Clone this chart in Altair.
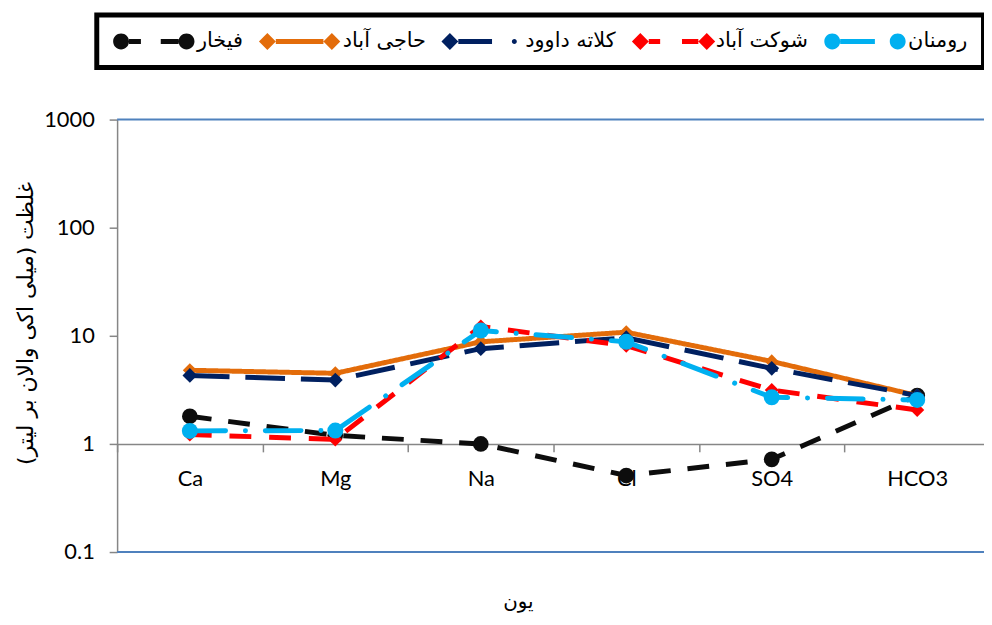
import altair as alt
import pandas as pd

# ---- data -------------------------------------------------------------
IONS = ["Ca", "Mg", "Na", "Cl", "SO4", "HCO3"]
SERIES = ["فیخار", "حاجی آباد", "کلاته داوود", "شوکت آباد", "رومنان"]
fikhar = [1.8, 1.2, 1.0, 0.51, 0.72, 2.8]
hajiabad = [4.8, 4.5, 8.8, 10.8, 5.8, 2.8]
kalateh = [4.3, 3.9, 7.6, 9.6, 5.0, 2.8]
shokatabad = [1.22, 1.1, 12.2, 8.1, 3.15, 2.06]
romanan = [1.32, 1.33, 11.2, 8.8, 2.7, 2.55]
VALUES = [fikhar, hajiabad, kalateh, shokatabad, romanan]
Y_TICKS = [0.1, 1, 10, 100, 1000]

rows = []
for s, vals in zip(SERIES, VALUES):
    for ion, v in zip(IONS, vals):
        rows.append({"series": s, "ion": ion, "value": v})
df = pd.DataFrame(rows)

# ---- styles -----------------------------------------------------------
COLORS = ["#0D0D0D", "#E36C0A", "#002060", "#FF0000", "#00B0F0"]
DASHES = [[22, 17], [1, 0], [40, 16], [22, 18], [36, 20, 0.1, 20]]
CAPS = ["butt", "butt", "butt", "butt", "round"]
WIDTHS = [5, 5, 5, 5, 5]
MARKERS = ["circle", "diamond", "diamond", "diamond", "circle"]
MSIZES = [250, 200, 220, 200, 260]

# legend glyphs: drawn in "entry pixels" (0..82 wide), converted to the
# unit system of a Vega custom symbol of size 400 (10 px per unit, centre at 10 px)
SYM_SIZE = 400
U = 10.0


def ux(p):
    return (p - 10.0) / U


def circ(cx, r):
    a, b, rr = ux(cx - r), ux(cx + r), r / U
    return f"M{a:.3f},0A{rr:.3f},{rr:.3f},0,1,1,{b:.3f},0A{rr:.3f},{rr:.3f},0,1,1,{a:.3f},0Z"


def dia(cx, r):
    a, c, b, rr = ux(cx - r), ux(cx), ux(cx + r), r / U
    return f"M{a:.3f},0L{c:.3f},{-rr:.3f}L{b:.3f},0L{c:.3f},{rr:.3f}Z"


def bar(x0, x1, h=2.5):
    a, b, hh = ux(x0), ux(x1), h / U
    return f"M{a:.3f},{-hh:.3f}L{b:.3f},{-hh:.3f}L{b:.3f},{hh:.3f}L{a:.3f},{hh:.3f}Z"


PATHS = [
    circ(8, 8) + bar(16, 28) + bar(48, 66) + circ(74, 8),
    dia(8.5, 8.5) + bar(17, 65) + dia(73.5, 8.5),
    dia(8.5, 8.5) + bar(17, 51) + circ(73.5, 2.5),
    dia(8.5, 8.5) + bar(17, 28.5) + bar(50.5, 67) + dia(75.5, 8.5),
    circ(8, 8) + bar(16, 51) + circ(74, 8),
]

FONT = "Lato"
FA_FONT = "DejaVu Sans"

x_enc = alt.X(
    "ion:N",
    sort=IONS,
    scale=alt.Scale(type="band", domain=IONS, range=[0, 880],
                    paddingInner=0, paddingOuter=0),
    axis=alt.Axis(
        title="یون", titleFont=FA_FONT, titleFontSize=20, titleFontWeight="normal",
        titleColor="black", titleX=404, titleY=159, titleBaseline="middle",
        titleAlign="center",
        offset=-109, labelAngle=0, labelFont=FONT, labelFontSize=22,
        labelColor="black", labelPadding=17, tickBand="extent", tickSize=8,
        tickColor="#868686", domainColor="#868686", domainWidth=1.5,
        tickWidth=1.5, grid=False,
    ),
)
y_enc = alt.Y(
    "value:Q",
    scale=alt.Scale(type="log", domain=[0.1, 1000]),
    axis=alt.Axis(
        values=Y_TICKS, format="~g", title="غلظت (میلی اکی والان بر لیتر)",
        titleFont=FA_FONT, titleFontSize=22, titleFontWeight="normal",
        titleColor="black", titleAngle=270, titleX=-92, titleY=205,
        titleAlign="center", titleBaseline="middle",
        labelFont=FONT, labelFontSize=22, labelColor="black", labelPadding=15,
        tickSize=8, tickColor="#868686", domainColor="#868686",
        domainWidth=1.5, tickWidth=1.5, grid=False,
    ),
)

layers = []

frame = alt.Chart(pd.DataFrame({"v": [Y_TICKS[0], Y_TICKS[-1]]})).mark_rule(
    color="#4F81BD", strokeWidth=2
).encode(y=alt.Y("v:Q"))
layers.append(frame)

for i, s in enumerate(SERIES):
    base = alt.Chart(df).transform_filter(alt.datum.series == s)
    line = base.mark_line(
        color=COLORS[i], strokeWidth=WIDTHS[i], strokeDash=DASHES[i],
        strokeCap=CAPS[i], strokeJoin="round",
    ).encode(x=x_enc, y=y_enc)
    pts = base.mark_point(
        filled=True, shape=MARKERS[i], size=MSIZES[i], color=COLORS[i], opacity=1
    ).encode(x=x_enc, y=y_enc)
    layers += [line, pts]

legend = alt.Legend(
    title=None, orient="none", direction="horizontal", columns=5,
    legendX=-20.5, legendY=-105.5, padding=16, strokeColor="black",
    symbolSize=SYM_SIZE, symbolOpacity=1, symbolStrokeWidth=0,
    labelFont=FA_FONT, labelFontSize=21, labelColor="black", labelOffset=64,
    columnPadding=15,
)
legend_layer = alt.Chart(df).mark_point(filled=True, opacity=0).encode(
    x=x_enc, y=y_enc,
    color=alt.Color("series:N", scale=alt.Scale(domain=SERIES, range=COLORS),
                    legend=legend),
    shape=alt.Shape("series:N", scale=alt.Scale(domain=SERIES, range=PATHS),
                    legend=legend),
)
layers.append(legend_layer)

chart = alt.layer(*layers).properties(
    width=874, height=436, autosize="none",
    padding={"left": 110, "top": 110, "right": 0, "bottom": 63},
    background="white",
).configure_view(stroke=None).configure_legend(strokeWidth=5)

chart.save("out.html", embed_options={"renderer": "svg", "actions": False})
